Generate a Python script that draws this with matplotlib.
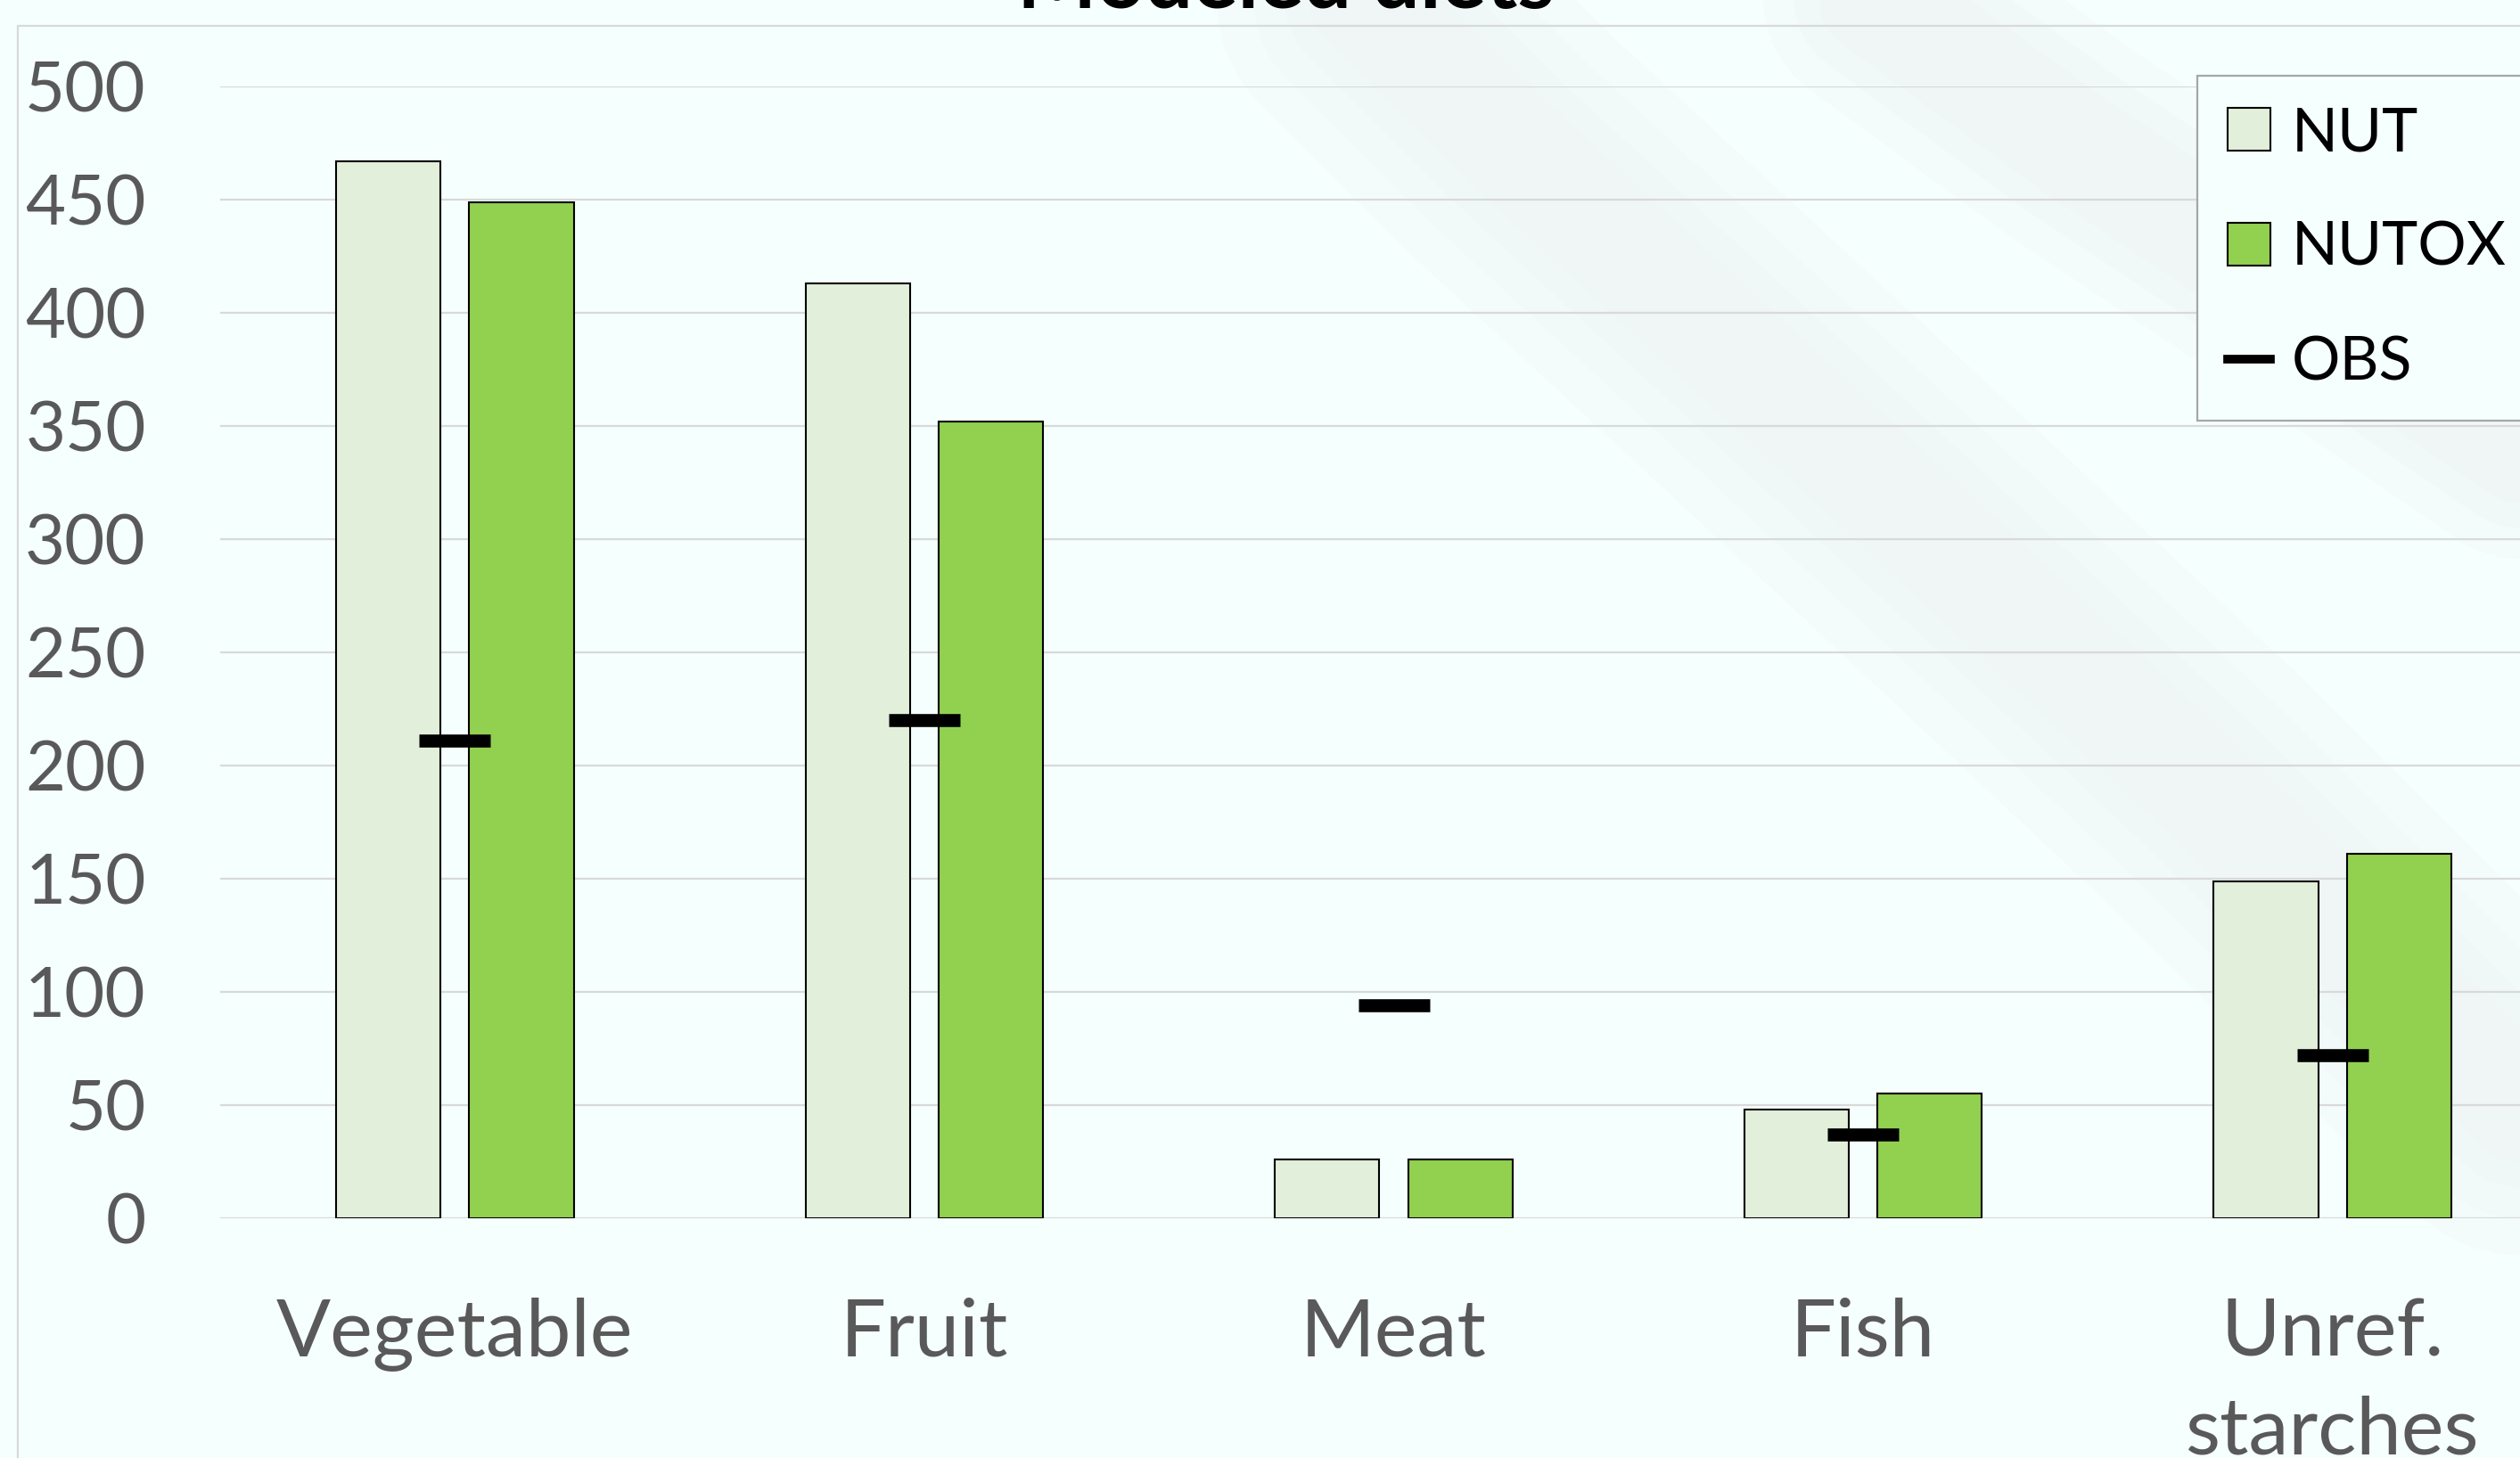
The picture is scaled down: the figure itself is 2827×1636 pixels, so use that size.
import matplotlib
matplotlib.use("Agg")
import matplotlib.pyplot as plt
import numpy as np
from matplotlib.lines import Line2D
from matplotlib.patches import Patch, Rectangle

plt.rcParams['font.family'] = ['Lato', 'DejaVu Sans']

# ---- data ----
categories = ['Vegetable', 'Fruit', 'Meat', 'Fish', 'Unref.\nstarches']
nut = [467, 413, 26, 48, 149]
nutox = [449, 352, 26, 55, 161]
obs = [211, 220, 94, 37, 72]
yticks = [0, 50, 100, 150, 200, 250, 300, 350, 400, 450, 500]
title = 'Modeled diets'

BG = '#F5FFFD'
W, H = 2827, 1636
fig = plt.figure(figsize=(W / 100, H / 100), dpi=100, facecolor=BG)

# faint watermark bands (decoration)
def band(pts, color, widths, alpha):
    xs = np.array([p[0] for p in pts]) / 1568
    ys = 1 - np.array([p[1] for p in pts]) / 907
    for w in widths:
        fig.add_artist(Line2D(xs, ys, transform=fig.transFigure, color=color,
                              lw=w, alpha=alpha, solid_capstyle='round', zorder=0))

band([(830, -20), (940, 90), (1070, 210), (1210, 340), (1370, 490), (1600, 720)],
     '#D6C6CB', [240, 180, 130, 90], 0.035)
band([(1140, -20), (1290, 90), (1440, 190), (1600, 300)],
     '#D8C0C7', [180, 130, 90], 0.04)

# chart area border
fig.add_artist(Rectangle((20 / W, -0.1), 1.2, 1 - 29 / H + 0.1, transform=fig.transFigure,
                         fill=False, edgecolor='#D9D9D9', lw=1.6, zorder=1))

ax = fig.add_axes([247 / W, 269 / H, 2633 / W, 1270 / H])
ax.set_facecolor('none')
x = np.arange(len(categories))
bw = 0.2226
off = 0.142
ax.bar(x - off, nut, bw, color='#E2EFDA', edgecolor='black', lw=1.5, zorder=3)
ax.bar(x + off, nutox, bw, color='#92D050', edgecolor='black', lw=1.5, zorder=3)
ax.plot(x, obs, ls='none', marker='_', ms=58, mew=10.5, color='black', zorder=4)

ax.set_xlim(-0.5, 4.5)
ax.set_ylim(0, 500)
ax.set_yticks(yticks)
ax.set_xticks(x)
ax.set_xticklabels(categories, linespacing=1.42)
for s in ax.spines.values():
    s.set_visible(False)
ax.yaxis.grid(True, color='#D9D9D9', lw=1.6, zorder=0)
ax.set_axisbelow(True)
ax.axhline(0, color='#D9D9D9', lw=2.2, zorder=2)
ax.tick_params(axis='y', length=0, pad=60, labelsize=56, labelcolor='#595959')
ax.tick_params(axis='x', length=0, pad=64, labelsize=65, labelcolor='#595959')
for t in ax.get_xticklabels():
    t.set_verticalalignment('top')

handles = [Patch(facecolor='#E2EFDA', edgecolor='black', lw=1.5),
           Patch(facecolor='#92D050', edgecolor='black', lw=1.5),
           Line2D([], [], color='black', lw=7)]
leg = fig.legend(handles, ['NUT', 'NUTOX', 'OBS'], loc='upper left',
                 bbox_to_anchor=(2465 / W, 1 - 85 / H), fontsize=49,
                 frameon=True, fancybox=False, edgecolor='#A6A6A6',
                 facecolor=BG, framealpha=1, handlelength=0.7, handleheight=0.7,
                 handletextpad=0.35, labelspacing=0.98, borderpad=0.5,
                 borderaxespad=0)
leg.get_frame().set_linewidth(1.6)

fig.text(1442 / W, 1 - 9 / H, title, ha='center', va='baseline', fontsize=68,
         fontweight='bold', color='black')

fig.savefig('out.png', dpi=100, facecolor=BG)
